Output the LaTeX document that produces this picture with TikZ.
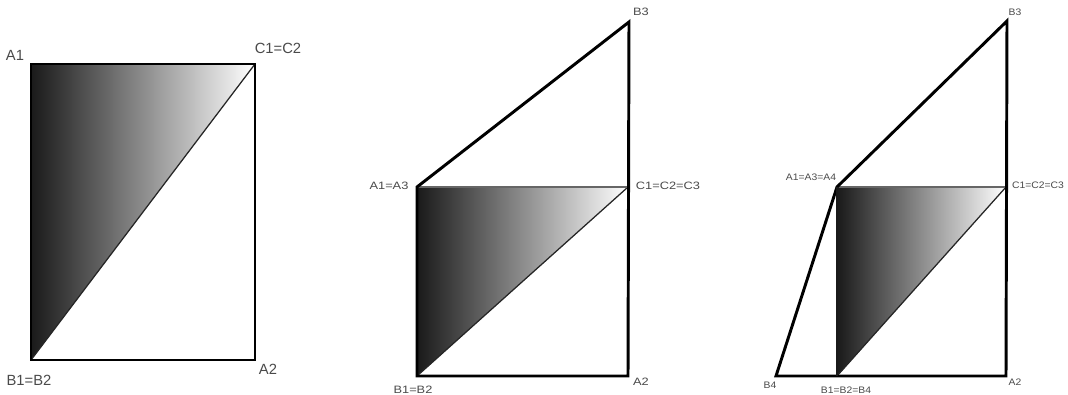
\documentclass[tikz,border=0pt]{standalone}
\usepackage{fontspec}
\setmainfont{Liberation Sans}
\newfontfamily\widefont[FakeStretch=1.2]{Liberation Sans}
\newfontfamily\narrowfont[FakeStretch=1.1]{Liberation Sans}
\usepackage{xcolor}
\definecolor{Lcolor}{HTML}{4A4A4A}

\begin{document}
\begin{tikzpicture}[
  x=0.025cm, y=-0.025cm,
  edge/.style={line width=2.1pt, black, line join=miter},
  seam/.style={line width=0.9pt, black!85},
  rim/.style={line width=1pt, black!60},
  shade/.style={left color=black!90, right color=white},
  biglbl/.style={font=\fontsize{10.5}{12}\selectfont, text=Lcolor, inner sep=0pt},
  lbl/.style={font=\widefont\fontsize{7.6}{9}\selectfont, text=Lcolor, inner sep=0pt},
  smllbl/.style={font=\narrowfont\fontsize{6.7}{8}\selectfont, text=Lcolor, inner sep=0pt},
]
  \useasboundingbox (0,0) rectangle (1068,395);

  % first figure
  \coordinate (fA1) at (31,64);
  \coordinate (fC1) at (255,64);
  \coordinate (fB1) at (31,360);
  \coordinate (fA2) at (255,360);
  % second figure
  \coordinate (gA1) at (417,187);
  \coordinate (gC1) at (628,187);
  \coordinate (gB1) at (417,376);
  \coordinate (gA2) at (628,376);
  \coordinate (gB3) at (629,22);
  % third figure
  \coordinate (hA1) at (837,187);
  \coordinate (hC1) at (1006,187);
  \coordinate (hB1) at (837,376);
  \coordinate (hA2) at (1006,376);
  \coordinate (hB3) at (1007,21);
  \coordinate (hB4) at (776,376);

  \foreach \f in {f, g, h} {
    \fill[shade] (\f A1) -- (\f C1) -- (\f B1) -- cycle;
    \draw[seam] (\f B1) -- (\f C1);
  }
  \draw[rim] (gA1) -- (gC1);
  \draw[rim] (hA1) -- (hC1);

  \draw[edge] (fA1) -- (fC1) -- (fA2) -- (fB1) -- cycle;
  \draw[edge] (gB1) -- (gA1) -- (gB3) -- (gA2) -- cycle;
  \draw[edge] (hB1) -- (hB4) -- (hA1) -- (hB3) -- (hA2) -- cycle;
  \draw[line width=1.2pt, black!90] (hA1) -- (hB1);

  \node[biglbl] (lfA1) at (15,55) {A1};
  \node[biglbl] (lfC1) at (278,48) {C1=C2};
  \node[biglbl] (lfA2) at (268,369) {A2};
  \node[biglbl] (lfB1) at (29,380) {B1=B2};

  \node[lbl] (lgB3) at (641,12) {B3};
  \node[lbl] (lgA1) at (389,186) {A1=A3};
  \node[lbl] (lgC1) at (668,186) {C1=C2=C3};
  \node[lbl] (lgB1) at (413,390) {B1=B2};
  \node[lbl] (lgA2) at (641,382) {A2};

  \node[smllbl] (lhB3) at (1015,12) {B3};
  \node[smllbl] (lhA1) at (811,177) {A1=A3=A4};
  \node[smllbl] (lhC1) at (1038,185) {C1=C2=C3};
  \node[smllbl] (lhB4) at (770,385) {B4};
  \node[smllbl] (lhB1) at (846,390) {B1=B2=B4};
  \node[smllbl] (lhA2) at (1015,382) {A2};
\end{tikzpicture}
\end{document}
